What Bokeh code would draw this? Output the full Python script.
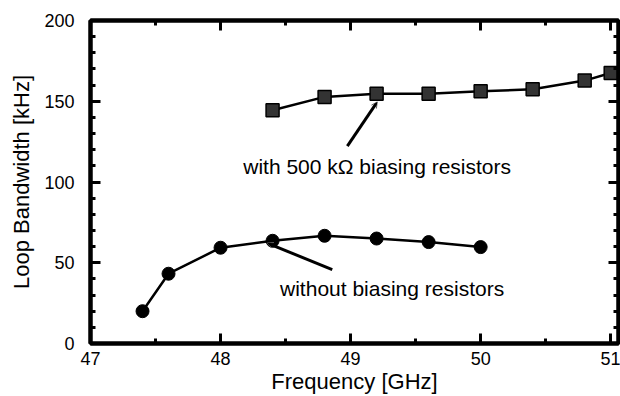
from bokeh.plotting import figure
from bokeh.models import Range1d, LinearAxis, FixedTicker, Arrow, OpenHead
from bokeh.core.properties import value
from bokeh.embed import file_html
from bokeh.resources import INLINE

# ---- data ----
freq_with = [48.4, 48.8, 49.2, 49.6, 50.0, 50.4, 50.8, 51.0]
bw_with = [144.4, 152.7, 154.7, 154.7, 156.2, 157.4, 162.8, 167.5]
freq_without = [47.4, 47.6, 48.0, 48.4, 48.8, 49.2, 49.6, 50.0]
bw_without = [20.0, 43.2, 59.3, 63.6, 66.7, 65.0, 62.8, 59.7]

x_ticks = [47, 48, 49, 50, 51]
x_minor = [47.5, 48.5, 49.5, 50.5]
y_ticks = [0, 50, 100, 150, 200]
y_minor = [10, 20, 30, 40, 60, 70, 80, 90, 110, 120, 130, 140, 160, 170, 180, 190]

label_text = ["with 500 k\u03a9 biasing resistors", "without biasing resistors"]
label_x = [49.204, 49.319]
label_y = [109.3, 34.0]
arrow_tail_x = [48.975, 48.859]
arrow_tail_y = [122.2, 45.7]
arrow_tip_x = [49.205, 48.359]
arrow_tip_y = [149.6, 62.2]

FONT = "Liberation Sans"

p = figure(width=620, height=396, output_backend="svg", toolbar_location=None,
           x_range=Range1d(47, 51.06), y_range=Range1d(0, 200),
           min_border_left=90, min_border_right=2, min_border_top=20, min_border_bottom=52,
           x_axis_label="Frequency [GHz]", y_axis_label="Loop Bandwidth [kHz]")
p.xgrid.visible = False
p.ygrid.visible = False
p.outline_line_color = "black"
p.outline_line_width = 4
p.background_fill_color = "white"
p.border_fill_color = "white"

def style_axis(ax, ticks, minor, labels=True):
    ax.ticker = FixedTicker(ticks=ticks, minor_ticks=minor)
    ax.axis_line_width = 4
    ax.axis_line_color = "black"
    ax.major_tick_in = 10
    ax.major_tick_out = 0
    ax.minor_tick_in = 5
    ax.minor_tick_out = 0
    ax.major_tick_line_width = 3
    ax.minor_tick_line_width = 3
    ax.major_tick_line_color = "black"
    ax.minor_tick_line_color = "black"
    ax.major_label_text_font = FONT
    ax.major_label_text_font_size = "18px"
    ax.major_label_text_color = "black"
    ax.axis_label_text_font = FONT
    ax.axis_label_text_font_size = "22px"
    ax.axis_label_text_font_style = "normal"
    ax.axis_label_text_color = "black"
    if not labels:
        ax.major_label_overrides = {t: "" for t in ticks}
        ax.major_label_standoff = 0

style_axis(p.xaxis[0], x_ticks, x_minor)
style_axis(p.yaxis[0], y_ticks, y_minor)
p.xaxis[0].major_label_standoff = 8
p.xaxis[0].axis_label_standoff = 1
p.yaxis[0].major_label_standoff = 16
p.yaxis[0].axis_label_standoff = 7

top = LinearAxis()
style_axis(top, x_ticks, x_minor, labels=False)
p.add_layout(top, "above")
right = LinearAxis()
style_axis(right, y_ticks, y_minor, labels=False)
p.add_layout(right, "right")

# series
p.line(freq_with, bw_with, line_color="black", line_width=2.5)
p.scatter(freq_with, bw_with, marker="square", size=13, fill_color="#333333",
          line_color="black", line_width=1.5)
p.line(freq_without, bw_without, line_color="black", line_width=2.5)
p.scatter(freq_without, bw_without, marker="circle", size=13, fill_color="black",
          line_color="black")

# annotations
for i in range(len(label_text)):
    p.add_layout(Arrow(end=OpenHead(size=6, line_color="#666666", line_width=1),
                       x_start=arrow_tail_x[i], y_start=arrow_tail_y[i],
                       x_end=arrow_tip_x[i], y_end=arrow_tip_y[i],
                       line_color="black", line_width=3))

p.text(x=label_x, y=label_y, text=label_text, text_font=value(FONT),
       text_font_size=value("21px"), text_align="center", text_baseline="middle",
       text_color="black")

open("out.html", "w").write(file_html(p, INLINE))
